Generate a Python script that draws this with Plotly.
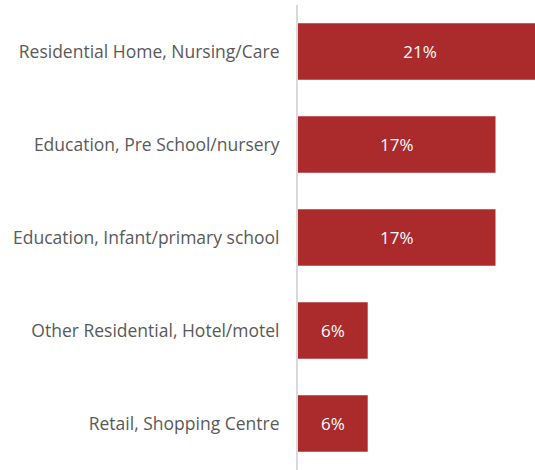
import plotly.graph_objects as go

# Share of incidents by premises type
categories = [
    "Residential Home, Nursing/Care",
    "Education, Pre School/nursery",
    "Education, Infant/primary school",
    "Other Residential, Hotel/motel",
    "Retail, Shopping Centre",
]
shares = [21, 17, 17, 6, 6]

bar_colour = "#AB2A2C"
label_colour = "#595959"

fig = go.Figure(
    go.Bar(
        y=categories,
        x=shares,
        orientation="h",
        marker=dict(color=bar_colour, line=dict(width=0)),
        text=[f"{v}%" for v in shares],
        textposition="inside",
        insidetextanchor="middle",
        textfont=dict(family="Open Sans", size=17, color="white"),
        cliponaxis=True,
    )
)

fig.update_layout(
    width=535,
    height=470,
    margin=dict(l=298, r=0, t=5, b=0),
    paper_bgcolor="white",
    plot_bgcolor="white",
    bargap=0.39,
    showlegend=False,
    uniformtext=dict(minsize=17, mode="show"),
    xaxis=dict(
        range=[0, 20.4],
        visible=False,
        showgrid=False,
        zeroline=False,
    ),
    yaxis=dict(
        autorange="reversed",
        showgrid=False,
        zeroline=False,
        showline=True,
        linecolor="#D9D9D9",
        linewidth=2,
        ticks="",
        ticklabelstandoff=13,
        tickfont=dict(family="Open Sans", size=17.5, color=label_colour),
    ),
)

fig.write_html("out.html")
